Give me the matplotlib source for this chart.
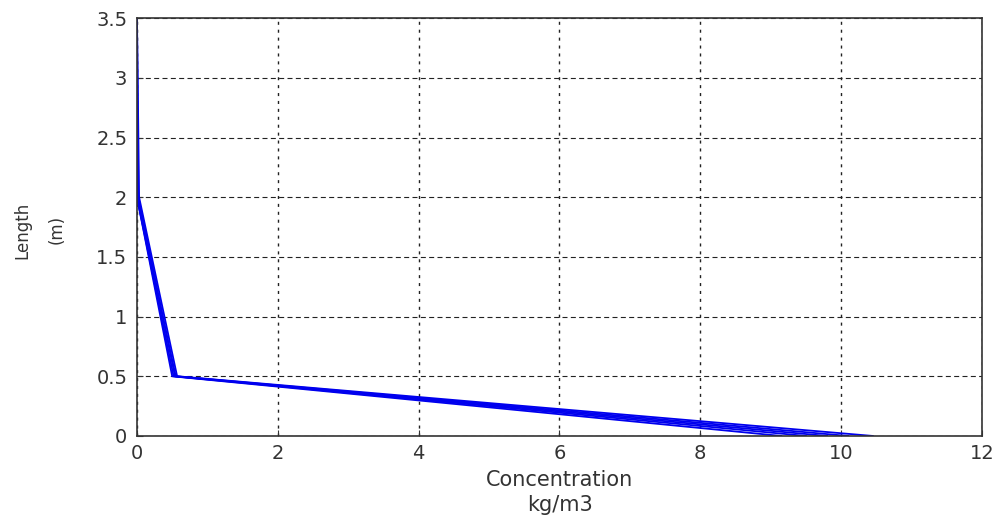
import matplotlib
matplotlib.use('Agg')
import matplotlib.pyplot as plt

plt.rcParams['font.family'] = ['DejaVu Sans']

# concentration profiles (kg/m3) against length (m), one list per run
length = [3.5, 2.0, 0.5, 0.0]
conc_runs = [
    [0.0, 0.0, 0.50, 9.15],
    [0.0, 0.0, 0.52, 9.5],
    [0.0, 0.02, 0.54, 9.8],
    [0.0, 0.0, 0.55, 10.1],
    [0.0, 0.03, 0.57, 10.45],
]

xticks = [0, 2, 4, 6, 8, 10, 12]
yticks = [0, 0.5, 1, 1.5, 2, 2.5, 3, 3.5]
ytick_labels = ['0', '0.5', '1', '1.5', '2', '2.5', '3', '3.5']

fig = plt.figure(figsize=(10.02, 5.19), dpi=100)
ax = fig.add_axes([0.1367, 0.16, 0.8433, 0.805])

for c in conc_runs:
    ax.plot(c, length, color='#0000ee', linewidth=1.3)

ax.set_xlim(0, 12)
ax.set_ylim(0, 3.5)
ax.set_xticks(xticks)
ax.set_yticks(yticks)
ax.set_yticklabels(ytick_labels)
# horizontal grid dashed, vertical grid finer
ax.yaxis.grid(True, color='#222222', linestyle=(0, (4.5, 3)), linewidth=0.8)
ax.xaxis.grid(True, color='#222222', linestyle=(0, (2.2, 3.5)), linewidth=1.0)
ax.tick_params(labelsize=14, direction='in', length=4, colors='#333333',
               labelcolor='#333333')
ax.tick_params(axis='y', pad=7)
ax.tick_params(axis='x', pad=6)
for s in ax.spines.values():
    s.set_linewidth(1.2)
    s.set_color('#333333')

fig.text(0.5585, 0.075, 'Concentration', fontsize=15, color='#333333',
         ha='center', va='center')
fig.text(0.5585, 0.027, 'kg/m3', fontsize=15, color='#333333',
         ha='center', va='center')
fig.text(0.022, 0.557, 'Length', fontsize=12, color='#333333',
         ha='center', va='center', rotation=90)
fig.text(0.057, 0.557, '(m)', fontsize=12, color='#333333',
         ha='center', va='center', rotation=90)

fig.savefig('out.png', dpi=100)
